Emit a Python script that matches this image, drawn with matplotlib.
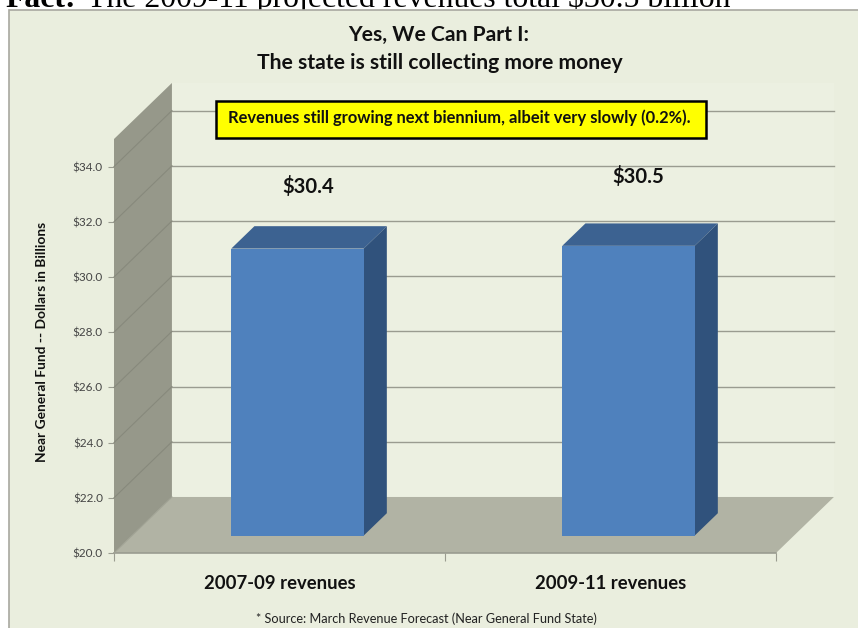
import matplotlib
matplotlib.use('Agg')
import matplotlib.pyplot as plt
from matplotlib.patches import Polygon, Rectangle

categories = ['2007-09 revenues', '2009-11 revenues']
revenues = [30.4, 30.5]
label_text = ['$30.4', '$30.5']
y_ticks = [20, 22, 24, 26, 28, 30, 32, 34]
y_tick_labels = ['$20.0', '$22.0', '$24.0', '$26.0', '$28.0', '$30.0', '$32.0', '$34.0']

W, H = 858, 628
FONT = 'Lato'

# 3d look, depth of the plot box in data units
DX, DY = 0.175, 2.03
BAR_D0, BAR_D1 = 0.31, 0.71
BAR_W = 0.4
Y_MIN, Y_MAX = 20, 35

BG = '#EAEEDE'
GRID = '#9A9C90'


def fig_text(x, y, s, **kw):
    """Place text with pixel coordinates (top left origin)."""
    kw.setdefault('ha', 'center')
    kw.setdefault('va', 'center')
    kw.setdefault('family', FONT)
    return fig.text(x / W, 1 - y / H, s, **kw)


fig = plt.figure(figsize=(W / 100, H / 100), dpi=100, facecolor='white')

# slide background with its border, kept behind the axes
fig.add_artist(Rectangle((9 / W, -0.01), 1, 1 - 10 / H + 0.01, transform=fig.transFigure,
                         facecolor=BG, edgecolor='#A8A8A0', linewidth=1.2, zorder=-5))

# heading cut off by the top of the picture
fig_text(5, 7, 'Fact:', ha='left', va='baseline', family='Liberation Serif',
         weight='bold', fontsize=22.9, zorder=-6)
fig_text(87, 7, 'The 2009-11 projected revenues total $30.5 billion', ha='left', va='baseline',
         family='Liberation Serif', fontsize=22.9, zorder=-6)

ax = fig.add_axes([114 / W, 1 - 553 / H, (776 - 114) / W, (553 - 139) / H])
ax.set_xlim(0, 2)
ax.set_ylim(Y_MIN, Y_MAX)
ax.patch.set_visible(False)
for name in ['top', 'right', 'left']:
    ax.spines[name].set_visible(False)
ax.spines['bottom'].set_color(GRID)
ax.spines['bottom'].set_linewidth(1.2)

# back wall, side wall, floor
ax.add_patch(Polygon([(DX, Y_MIN + DY), (2 + DX, Y_MIN + DY), (2 + DX, Y_MAX + DY), (DX, Y_MAX + DY)],
                     facecolor='#ECF0E1', edgecolor='none', clip_on=False, zorder=1))
ax.add_patch(Polygon([(0, Y_MIN), (DX, Y_MIN + DY), (DX, Y_MAX + DY), (0, Y_MAX)],
                     facecolor='#96988A', edgecolor='none', clip_on=False, zorder=2))
ax.add_patch(Polygon([(0, Y_MIN), (2, Y_MIN), (2 + DX, Y_MIN + DY), (DX, Y_MIN + DY)],
                     facecolor='#B1B3A4', edgecolor='none', clip_on=False, zorder=2))

# gridlines run along the back wall and down the side wall
for v in y_ticks[1:]:
    ax.plot([DX, 2 + DX], [v + DY, v + DY], color=GRID, lw=1.0, clip_on=False, zorder=3)
    ax.plot([0, DX], [v, v + DY], color='#87897C', lw=0.8, clip_on=False, zorder=3)
ax.plot([0, DX], [Y_MIN, Y_MIN + DY], color='#A0A294', lw=0.8, clip_on=False, zorder=3)

# bars
centers = [0.5, 1.5]
front = [c + BAR_D0 * DX for c in centers]
base = Y_MIN + BAR_D0 * DY
heights = [r - Y_MIN for r in revenues]
ax.bar(front, heights, BAR_W, bottom=base, color='#4F81BD', zorder=6, clip_on=False)
off_x = (BAR_D1 - BAR_D0) * DX
off_y = (BAR_D1 - BAR_D0) * DY
for f, h in zip(front, heights):
    l, r = f - BAR_W / 2, f + BAR_W / 2
    top = base + h
    ax.add_patch(Polygon([(l, top), (r, top), (r + off_x, top + off_y), (l + off_x, top + off_y)],
                         facecolor='#3C6291', edgecolor='none', clip_on=False, zorder=5))
    ax.add_patch(Polygon([(r, base), (r + off_x, base + off_y), (r + off_x, top + off_y), (r, top)],
                         facecolor='#30527C', edgecolor='none', clip_on=False, zorder=5))

# axes ticks
ax.set_yticks(y_ticks)
ax.set_yticklabels(y_tick_labels, family=FONT, fontsize=8.5, color='#444444')
ax.tick_params(axis='y', length=4, color=GRID, pad=4)
ax.set_xticks([0, 1, 2])
ax.set_xticklabels([])
ax.tick_params(axis='x', which='major', length=6, color=GRID)
ax.set_xticks(centers, minor=True)
ax.set_xticklabels(categories, minor=True, family=FONT, weight='bold', fontsize=13.3, color='#111111')
ax.tick_params(axis='x', which='minor', length=0, pad=16)

# titles and notes
fig_text(439, 35, 'Yes, We Can Part I:', weight='bold', fontsize=15.2, color='#111111')
fig_text(440, 63, 'The state is still collecting more money', weight='bold', fontsize=15.2, color='#111111')
fig_text(42, 342, 'Near General Fund -- Dollars in Billions', rotation=90, weight='bold',
         fontsize=9.9, color='#111111')
fig_text(426, 619, '* Source: March Revenue Forecast (Near General Fund State)', fontsize=9.2,
         color='#222222')

# callout box
fig.add_artist(Rectangle((216 / W, 1 - 138 / H), (706 - 216) / W, 37 / H, transform=fig.transFigure,
                         facecolor='#FFFF00', edgecolor='black', linewidth=1.8, zorder=8))
fig_text(459, 118, 'Revenues still growing next biennium, albeit very slowly (0.2%).',
         weight='bold', fontsize=11.9, color='#111111', zorder=9)

# value labels float free of the bars
fig_text(308, 187, label_text[0], weight='bold', fontsize=14.6, color='#111111')
fig_text(638, 177, label_text[1], weight='bold', fontsize=14.6, color='#111111')

fig.savefig('out.png', dpi=100)
